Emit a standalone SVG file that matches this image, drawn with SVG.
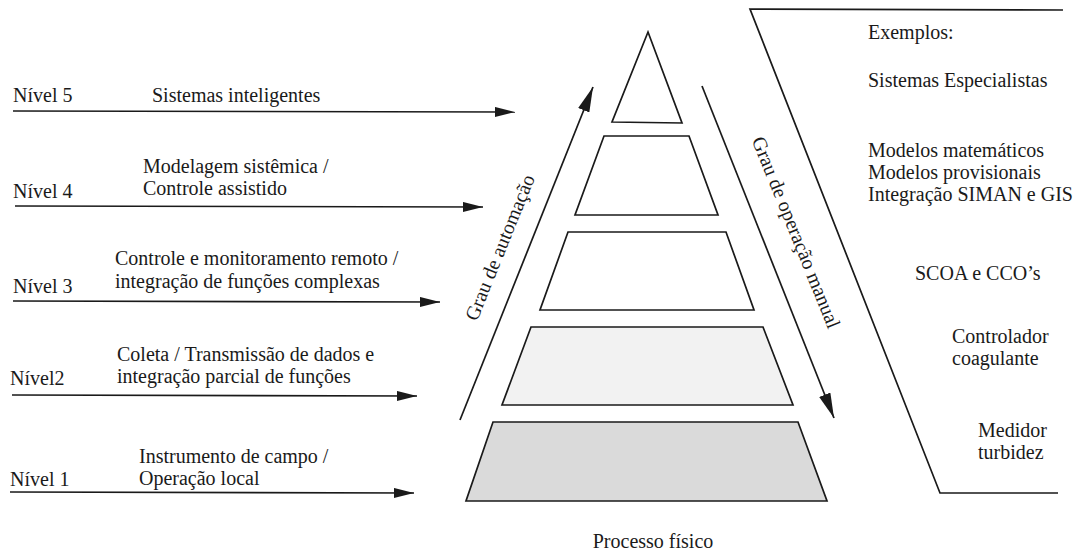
<svg xmlns="http://www.w3.org/2000/svg" width="1091" height="554" viewBox="0 0 1091 554">
<defs>
<style>
text{font-family:"Liberation Serif","Times New Roman",serif;font-size:20px;fill:#1a1a1a}
.ln{stroke:#1a1a1a;stroke-width:1.7;fill:none}
.lay{stroke:#1a1a1a;stroke-width:1.7}
</style>
<marker id="ah" markerUnits="userSpaceOnUse" viewBox="0 0 20 10" markerWidth="20" markerHeight="10" refX="20" refY="5" orient="auto"><path d="M0,0 L20,5 L0,10 z" fill="#1a1a1a"/></marker>
<marker id="ahb" markerUnits="userSpaceOnUse" viewBox="0 0 25 12" markerWidth="25" markerHeight="12" refX="25" refY="6" orient="auto"><path d="M0,0 L25,6 L0,12 z" fill="#1a1a1a"/></marker>
</defs>
<rect width="1091" height="554" fill="#fff"/>

<g id="connectors">
<line class="ln" x1="13" y1="111" x2="515" y2="112" marker-end="url(#ah)"/>
<line class="ln" x1="15" y1="206" x2="483" y2="207" marker-end="url(#ah)"/>
<line class="ln" x1="13" y1="301" x2="440" y2="302" marker-end="url(#ah)"/>
<line class="ln" x1="12" y1="395" x2="417" y2="396" marker-end="url(#ah)"/>
<line class="ln" x1="10" y1="492" x2="414" y2="493" marker-end="url(#ah)"/>
<line class="ln" x1="460" y1="420" x2="593" y2="87" marker-end="url(#ahb)"/>
<line class="ln" x1="702" y1="86" x2="834" y2="418" marker-end="url(#ahb)"/>
</g>

<g id="level5"><text x="13" y="102">Nível 5</text><text x="152" y="102">Sistemas inteligentes</text></g>
<g id="level4"><text x="143" y="173">Modelagem sistêmica /</text><text x="143" y="195">Controle assistido</text><text x="13" y="198">Nível 4</text></g>
<g id="level3"><text x="115" y="265">Controle e monitoramento remoto /</text><text x="115" y="288">integração de funções complexas</text><text x="13" y="293">Nível 3</text></g>
<g id="level2"><text x="117" y="361">Coleta / Transmissão de dados e</text><text x="117" y="383">integração parcial de funções</text><text x="10" y="385">Nível2</text></g>
<g id="level1"><text x="139" y="463">Instrumento de campo /</text><text x="139" y="485">Operação local</text><text x="10" y="486">Nível 1</text></g>

<g id="pyramid">
<polygon id="layer5" class="lay" fill="#fff" points="648,32 682,123 612,122"/>
<polygon id="layer4" class="lay" fill="#fff" points="604,136 689,136 718,215 575,215"/>
<polygon id="layer3" class="lay" fill="#fff" points="568,232 726,232 754,310 540,310"/>
<polygon id="layer2" class="lay" fill="#f2f2f2" points="531,327 763,327 793,405 502,405"/>
<polygon id="layer1" class="lay" fill="#dadada" points="493,422 798,422 827,501 466,501"/>
</g>

<g id="axis-labels">
<text transform="translate(506,250) rotate(-68)" text-anchor="middle" font-size="21">Grau de automação</text>
<text transform="translate(790,235) rotate(68)" text-anchor="middle" font-size="21">Grau de operação manual</text>
</g>

<g id="process"><text x="653" y="548" text-anchor="middle">Processo físico</text></g>

<g id="examples">
<polyline class="ln" points="1063,10 750,9 940,493 1058,493"/>
<text x="868" y="39">Exemplos:</text>
<text x="868" y="87">Sistemas Especialistas</text>
<text x="868" y="157">Modelos matemáticos</text>
<text x="868" y="179">Modelos provisionais</text>
<text x="868" y="201">Integração SIMAN e GIS</text>
<text x="915" y="280">SCOA e CCO’s</text>
<text x="952" y="343">Controlador</text>
<text x="952" y="365">coagulante</text>
<text x="978" y="437">Medidor</text>
<text x="978" y="459">turbidez</text>
</g>
</svg>
